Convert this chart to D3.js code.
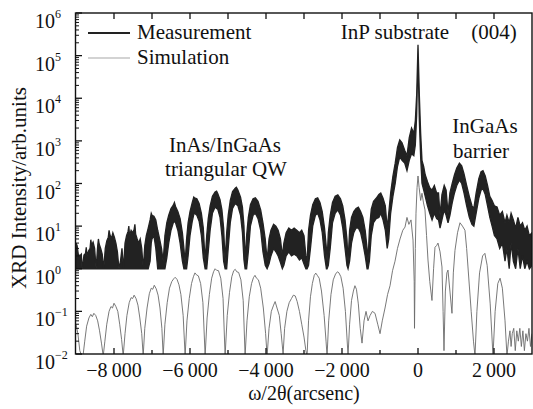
<!DOCTYPE html>
<html>
<head>
<meta charset="utf-8">
<script src="https://cdn.jsdelivr.net/npm/d3@7"></script>
<style>
  body { margin: 0; background: #fff; }
  text { font-family: "Liberation Serif", "DejaVu Serif", serif; fill: #111; }
</style>
</head>
<body>
<script>
// Taille du dessin
var larg = 533;
var haut = 409;

// Graduations
var xTicks = [-8000, -6000, -4000, -2000, 0, 2000];
var xTickLabels = ["\u22128\u2009000", "\u22126\u2009000", "\u22124\u2009000", "\u22122\u2009000", "0", "2\u2009000"];
var xMinorTicks = [-7000, -5000, -3000, -1000, 1000];
var yExponents = [-2, -1, 0, 1, 2, 3, 4, 5, 6];

// Mesure : bruit au plancher (bas = 1), [omega, haut]
var measFloor = [
  [-9000, 4.0], [-8970, 3.5], [-8940, 2.2], [-8900, 2.0], [-8860, 2.2], [-8840, 1.0], [-8820, 1.3],
  [-8790, 2.1], [-8750, 2.3], [-8730, 3.2], [-8710, 2.0], [-8670, 2.6], [-8630, 3.0], [-8610, 4.8],
  [-8590, 3.6], [-8550, 4.2], [-8510, 3.0], [-8470, 1.0], [-8430, 3.4], [-8410, 5.0], [-8390, 3.8],
  [-8350, 3.0], [-8310, 2.2], [-8270, 1.0], [-8230, 3.0], [-8190, 4.5], [-8150, 5.5], [-8130, 8.0],
  [-8110, 6.5], [-8070, 5.0], [-8030, 7.0], [-7990, 5.5], [-7950, 4.0], [-7910, 2.5], [-7870, 1.0],
  [-7830, 1.5], [-7790, 3.0], [-7750, 1.0], [-7710, 4.0], [-7670, 6.0], [-7630, 7.5], [-7610, 10],
  [-7590, 6.0], [-7550, 8.0], [-7510, 7.0], [-7470, 8.5], [-7450, 11], [-7430, 6.5], [-7390, 5.0],
  [-7350, 4.0], [-7310, 5.0], [-7270, 3.0], [-7230, 1.0], [-7190, 3.5], [-7150, 6.0]
];

// Mesure : franges du puits, [omega, haut, bas]
var measFringes = [
  [-7100, 9, 1], [-7050, 14, 1.5], [-7020, 20, 4], [-7000, 18, 5], [-6950, 17, 6], [-6900, 14, 3],
  [-6850, 8, 1], [-6800, 5, 1], [-6750, 3, 1], [-6706, 1.5, 1],
  [-6660, 6, 1], [-6610, 12, 1.8], [-6560, 18, 4], [-6500, 26, 8], [-6440, 31, 12], [-6410, 36, 13],
  [-6380, 29, 12], [-6320, 22, 8], [-6260, 15, 4], [-6200, 7, 1.5], [-6160, 3, 1], [-6128, 1.4, 1],
  [-6090, 5, 1], [-6050, 12, 2], [-6000, 22, 6], [-5940, 36, 13], [-5900, 48, 19], [-5880, 46, 20],
  [-5820, 44, 18], [-5760, 34, 13], [-5700, 20, 6], [-5650, 9, 1.8], [-5602, 1.5, 1],
  [-5560, 6, 1], [-5520, 15, 2.5], [-5470, 30, 8], [-5410, 50, 20], [-5340, 63, 28], [-5300, 66, 26],
  [-5270, 58, 25], [-5210, 42, 16], [-5160, 24, 6], [-5115, 9, 1.5], [-5076, 1.5, 1],
  [-5035, 7, 1], [-4995, 18, 3], [-4940, 40, 12], [-4880, 65, 26], [-4810, 78, 34], [-4780, 82, 32],
  [-4740, 70, 30], [-4670, 48, 18], [-4620, 28, 7], [-4580, 10, 1.6], [-4550, 1.5, 1],
  [-4510, 6, 1], [-4465, 16, 2.5], [-4410, 32, 10], [-4340, 44, 18], [-4280, 46, 20], [-4210, 38, 15],
  [-4140, 24, 8], [-4080, 12, 2.5], [-4020, 5, 1.2], [-3971, 1.6, 1],
  [-3920, 5, 1.3], [-3870, 8, 2], [-3800, 11, 3], [-3740, 10, 2.5], [-3680, 8, 2], [-3620, 5, 1.4],
  [-3570, 2, 1], [-3530, 4, 1.2], [-3470, 7, 2], [-3400, 9, 2.5], [-3330, 8, 2], [-3260, 9, 2.2],
  [-3190, 8, 2], [-3120, 7, 1.6], [-3060, 8, 1.8], [-3000, 6, 1.3], [-2950, 2, 1], [-2919, 1.5, 1],
  [-2880, 8, 1.2], [-2830, 18, 3], [-2770, 32, 10], [-2700, 44, 18], [-2640, 46, 20], [-2580, 36, 14],
  [-2520, 22, 7], [-2460, 9, 2], [-2410, 3, 1], [-2393, 1.5, 1],
  [-2360, 7, 1.2], [-2310, 18, 3], [-2250, 36, 12], [-2180, 50, 20], [-2110, 54, 24], [-2040, 44, 18],
  [-1980, 30, 9], [-1920, 14, 3], [-1870, 5, 1.2], [-1841, 1.5, 1],
  [-1800, 8, 1.5], [-1750, 16, 4], [-1690, 22, 7], [-1630, 26, 9], [-1570, 28, 9], [-1510, 22, 7],
  [-1450, 16, 4], [-1390, 8, 2], [-1340, 3, 1], [-1315, 1.5, 1]
];

// Mesure : pic du substrat et barriere InGaAs, [omega, haut, bas]
var measCenter = [
  [-1280, 8, 1.5], [-1230, 25, 6], [-1170, 38, 12], [-1100, 45, 15], [-1030, 55, 16], [-980, 60, 20],
  [-920, 45, 14], [-860, 30, 8], [-810, 9, 3], [-770, 20, 5], [-720, 60, 20], [-660, 150, 50],
  [-600, 300, 100], [-540, 700, 250], [-480, 1050, 420], [-420, 900, 350], [-350, 600, 300],
  [-290, 450, 200], [-230, 1200, 350], [-170, 2000, 500], [-110, 1500, 450], [-70, 3000, 800],
  [-35, 12000, 4000], [0, 180000, 100000], [35, 12000, 3000], [70, 1500, 400], [105, 350, 100],
  [150, 250, 70], [190, 160, 50], [250, 110, 30], [310, 80, 20], [370, 70, 14], [430, 90, 20],
  [490, 60, 15], [540, 60, 14], [580, 18, 9], [630, 55, 14], [690, 90, 24], [740, 70, 18],
  [790, 20, 12], [840, 60, 18], [900, 100, 35], [960, 160, 60], [1020, 230, 90], [1090, 300, 120],
  [1150, 260, 100], [1210, 170, 60], [1280, 90, 30], [1350, 50, 16], [1420, 30, 11], [1470, 26, 10],
  [1530, 60, 20], [1600, 130, 45], [1660, 190, 70], [1710, 200, 75], [1770, 150, 55], [1830, 90, 30],
  [1890, 50, 16], [1950, 40, 10], [2010, 30, 6], [2080, 28, 5], [2150, 18, 3], [2220, 22, 4],
  [2290, 12, 1.5], [2340, 18, 3], [2400, 12, 1], [2450, 20, 4], [2510, 14, 1.5], [2570, 9, 1],
  [2630, 16, 3], [2690, 10, 1], [2750, 12, 2], [2810, 8, 1], [2870, 10, 1.5], [2930, 6, 1], [3000, 7, 1.2]
];

// Simulation, [omega, intensite]
var simulation = [
  [-9000, 0.05], [-8950, 0.03], [-8900, 0.012], [-8850, 0.009], [-8810, 0.01], [-8770, 0.02],
  [-8720, 0.045], [-8660, 0.07], [-8610, 0.085], [-8570, 0.075], [-8530, 0.09], [-8480, 0.08],
  [-8430, 0.06], [-8380, 0.035], [-8330, 0.018], [-8284, 0.009], [-8240, 0.02], [-8190, 0.05],
  [-8130, 0.1], [-8080, 0.13], [-8040, 0.12], [-8000, 0.155], [-7950, 0.13], [-7900, 0.1],
  [-7850, 0.05], [-7800, 0.022], [-7758, 0.009], [-7710, 0.03], [-7660, 0.08], [-7600, 0.16],
  [-7550, 0.21], [-7510, 0.2], [-7470, 0.24], [-7420, 0.2], [-7370, 0.14], [-7320, 0.07],
  [-7270, 0.03], [-7232, 0.009], [-7190, 0.04], [-7130, 0.12], [-7070, 0.26], [-7020, 0.35],
  [-6980, 0.33], [-6940, 0.41], [-6890, 0.34], [-6840, 0.24], [-6790, 0.12], [-6740, 0.04],
  [-6706, 0.009], [-6660, 0.05], [-6600, 0.16], [-6540, 0.35], [-6480, 0.5], [-6430, 0.58],
  [-6390, 0.63], [-6340, 0.56], [-6290, 0.42], [-6240, 0.25], [-6180, 0.08], [-6128, 0.009],
  [-6080, 0.06], [-6020, 0.2], [-5960, 0.45], [-5910, 0.65], [-5870, 0.8], [-5830, 0.72],
  [-5780, 0.68], [-5720, 0.45], [-5660, 0.16], [-5602, 0.009], [-5550, 0.07], [-5490, 0.25],
  [-5430, 0.6], [-5380, 0.85], [-5340, 1.0], [-5300, 0.92], [-5250, 0.9], [-5190, 0.6],
  [-5130, 0.2], [-5076, 0.009], [-5020, 0.08], [-4960, 0.28], [-4900, 0.65], [-4850, 0.9],
  [-4810, 0.97], [-4770, 0.85], [-4720, 0.82], [-4660, 0.55], [-4600, 0.18], [-4550, 0.009],
  [-4500, 0.06], [-4440, 0.22], [-4380, 0.45], [-4330, 0.62], [-4290, 0.7], [-4250, 0.6],
  [-4200, 0.55], [-4140, 0.35], [-4070, 0.12], [-4010, 0.03], [-3971, 0.009], [-3920, 0.04],
  [-3860, 0.1], [-3800, 0.14], [-3760, 0.17], [-3710, 0.12], [-3650, 0.08], [-3600, 0.03],
  [-3550, 0.01], [-3510, 0.04], [-3450, 0.1], [-3390, 0.16], [-3330, 0.2], [-3280, 0.24],
  [-3230, 0.23], [-3180, 0.17], [-3120, 0.1], [-3060, 0.05], [-3000, 0.025], [-2950, 0.012],
  [-2919, 0.009], [-2880, 0.06], [-2830, 0.22], [-2780, 0.45], [-2730, 0.7], [-2690, 0.79],
  [-2650, 0.7], [-2600, 0.6], [-2540, 0.3], [-2470, 0.08], [-2420, 0.02], [-2393, 0.009],
  [-2350, 0.06], [-2290, 0.25], [-2230, 0.55], [-2170, 0.75], [-2120, 0.85], [-2080, 0.8],
  [-2030, 0.65], [-1970, 0.35], [-1910, 0.1], [-1870, 0.025], [-1841, 0.009], [-1800, 0.05],
  [-1750, 0.18], [-1700, 0.3], [-1660, 0.4], [-1620, 0.33], [-1570, 0.15], [-1520, 0.04],
  [-1473, 0.018], [-1420, 0.06], [-1368, 0.1], [-1315, 0.06], [-1262, 0.08], [-1200, 0.1],
  [-1131, 0.09], [-1060, 0.05], [-999, 0.03], [-940, 0.06], [-868, 0.12], [-800, 0.25],
  [-736, 0.4], [-670, 0.9], [-605, 1.5], [-540, 3], [-473, 5], [-400, 8], [-342, 9.5],
  [-290, 16], [-240, 11], [-184, 14], [-131, 4.7], [-100, 0.5], [-92, 0.04], [-70, 3],
  [-53, 20], [-25, 80], [0, 150], [30, 80], [70, 40], [105, 59], [145, 35], [184, 24],
  [225, 6], [263, 1.6], [310, 0.5], [368, 0.18], [410, 1], [447, 3.2], [490, 3.5], [526, 4.0],
  [580, 2.5], [631, 1.1], [660, 0.1], [684, 0.012], [720, 0.3], [760, 0.8], [789, 0.93],
  [840, 0.3], [894, 0.09], [930, 0.8], [973, 2.7], [1040, 7], [1105, 12], [1170, 10],
  [1236, 8], [1280, 3], [1315, 1.1], [1400, 0.1], [1460, 0.02], [1500, 0.009], [1550, 0.1],
  [1620, 0.8], [1700, 2.0], [1760, 2.3], [1820, 1.2], [1900, 0.15], [1973, 0.009], [2030, 0.1],
  [2100, 0.45], [2160, 0.6], [2220, 0.35], [2290, 0.06], [2341, 0.009], [2380, 0.02],
  [2420, 0.035], [2450, 0.015], [2480, 0.03], [2520, 0.04], [2560, 0.012], [2600, 0.035],
  [2640, 0.02], [2680, 0.04], [2720, 0.015], [2760, 0.035], [2800, 0.012], [2840, 0.03],
  [2880, 0.02], [2920, 0.04], [2960, 0.015], [3000, 0.03]
];

// Regroupement de la mesure : [omega, haut, bas]
var mesure = measFloor.map(function(d) { return [d[0], d[1], 1]; })
  .concat(measFringes, measCenter);

// Zone du graphe
var gauche = 76, droite = 532, hautG = 13, basG = 354;

var x = d3.scaleLinear().domain([-9000, 3000]).range([gauche, droite]);
var y = d3.scaleLog().domain([0.01, 1e6]).range([basG, hautG]);

var svg = d3.select("body")
  .append("svg")
  .attr("width", larg)
  .attr("height", haut);

svg.append("defs").append("clipPath").attr("id", "zone")
  .append("rect")
  .attr("x", gauche).attr("y", hautG)
  .attr("width", droite - gauche).attr("height", basG - hautG);

var trace = svg.append("g").attr("clip-path", "url(#zone)");

// Simulation (gris fin)
trace.append("path")
  .datum(simulation)
  .attr("fill", "none")
  .attr("stroke", "#6a6a6a")
  .attr("stroke-width", 0.9)
  .attr("d", d3.line()
    .x(function(d) { return x(d[0]); })
    .y(function(d) { return y(d[1]); }));

// Mesure (bande bruitee noire)
trace.append("path")
  .datum(mesure)
  .attr("fill", "#222")
  .attr("stroke", "#222")
  .attr("stroke-width", 1.3)
  .attr("stroke-linejoin", "miter")
  .attr("d", d3.area()
    .x(function(d) { return x(d[0]); })
    .y0(function(d) { return y(d[2]); })
    .y1(function(d) { return y(d[1]); }));

// Cadre
svg.append("rect")
  .attr("x", gauche - 0.5).attr("y", hautG)
  .attr("width", droite - gauche + 0.5).attr("height", basG - hautG)
  .attr("fill", "none")
  .attr("stroke", "#111")
  .attr("stroke-width", 1.4);

// Graduations de l'axe x (bas et haut, vers l'interieur)
var tousX = xTicks.concat(xMinorTicks);
svg.selectAll("line.tx")
  .data(tousX)
  .enter()
  .append("line")
  .attr("x1", function(d) { return x(d); })
  .attr("x2", function(d) { return x(d); })
  .attr("y1", basG)
  .attr("y2", function(d) { return basG - (xTicks.indexOf(d) >= 0 ? 6 : 4); })
  .attr("stroke", "#111").attr("stroke-width", 1.3);

svg.selectAll("line.txh")
  .data(tousX)
  .enter()
  .append("line")
  .attr("x1", function(d) { return x(d); })
  .attr("x2", function(d) { return x(d); })
  .attr("y1", hautG)
  .attr("y2", hautG + 6)
  .attr("stroke", "#111").attr("stroke-width", 1.3);

svg.selectAll("text.lx")
  .data(xTicks)
  .enter()
  .append("text")
  .attr("x", function(d) { return x(d); })
  .attr("y", 377)
  .attr("text-anchor", "middle")
  .attr("font-size", "20px")
  .text(function(d, i) { return xTickLabels[i]; });

// Graduations de l'axe y (log, majeures et mineures)
var mineures = [];
yExponents.slice(0, -1).forEach(function(e) {
  for (var k = 2; k <= 9; k++) mineures.push(k * Math.pow(10, e));
});

svg.selectAll("line.ty")
  .data(yExponents)
  .enter()
  .append("line")
  .attr("x1", gauche).attr("x2", gauche + 6)
  .attr("y1", function(d) { return y(Math.pow(10, d)); })
  .attr("y2", function(d) { return y(Math.pow(10, d)); })
  .attr("stroke", "#111").attr("stroke-width", 1.3);

svg.selectAll("line.tym")
  .data(mineures)
  .enter()
  .append("line")
  .attr("x1", gauche).attr("x2", gauche + 3)
  .attr("y1", function(d) { return y(d); })
  .attr("y2", function(d) { return y(d); })
  .attr("stroke", "#111").attr("stroke-width", 1);

var ly = svg.selectAll("text.ly")
  .data(yExponents)
  .enter()
  .append("text")
  .attr("x", 35)
  .attr("y", function(d) { return y(Math.pow(10, d)) + 15; })
  .attr("font-size", "20px");
ly.append("tspan").text("10");
ly.append("tspan")
  .attr("dy", -10)
  .attr("font-size", "12px")
  .text(function(d) { return d < 0 ? "\u2212" + (-d) : d; });

// Titres des axes
svg.append("text")
  .attr("transform", "translate(26,188) rotate(-90)")
  .attr("text-anchor", "middle")
  .attr("font-size", "21px")
  .text("XRD Intensity/arb.units");

svg.append("text")
  .attr("x", 304).attr("y", 400)
  .attr("text-anchor", "middle")
  .attr("font-size", "20px")
  .text("\u03c9/2\u03b8(arcsenc)");

// Legende
var legende = [
  {nom: "Measurement", couleur: "#222", epais: 2, y: 33},
  {nom: "Simulation", couleur: "#a8a8a8", epais: 1.2, y: 58}
];
legende.forEach(function(l) {
  svg.append("line")
    .attr("x1", 88).attr("x2", 130)
    .attr("y1", l.y).attr("y2", l.y)
    .attr("stroke", l.couleur).attr("stroke-width", l.epais);
  svg.append("text")
    .attr("x", 137).attr("y", l.y + 6)
    .attr("font-size", "21px")
    .text(l.nom);
});

// Annotations
var notes = [
  {t: "InP substrate", x: 395, y: 39, a: "middle"},
  {t: "(004)", x: 494, y: 39, a: "middle"},
  {t: "InGaAs", x: 485, y: 133, a: "middle"},
  {t: "barrier", x: 481, y: 158, a: "middle"},
  {t: "InAs/InGaAs", x: 225, y: 152, a: "middle"},
  {t: "triangular QW", x: 226, y: 176, a: "middle"}
];
svg.selectAll("text.note")
  .data(notes)
  .enter()
  .append("text")
  .attr("x", function(d) { return d.x; })
  .attr("y", function(d) { return d.y; })
  .attr("text-anchor", function(d) { return d.a; })
  .attr("font-size", "21px")
  .text(function(d) { return d.t; });
</script>
</body>
</html>
